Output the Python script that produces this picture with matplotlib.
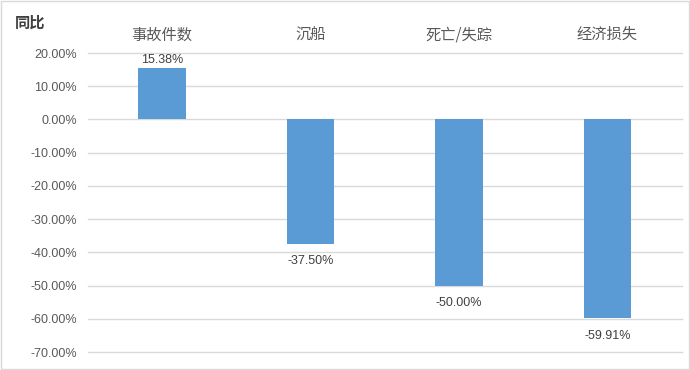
import matplotlib
matplotlib.use('Agg')
from matplotlib import pyplot as plt
from matplotlib.patches import Rectangle

categories = ['事故件数', '沉船', '死亡/失踪', '经济损失']
values = [15.38, -37.50, -50.00, -59.91]
yticks = [20, 10, 0, -10, -20, -30, -40, -50, -60, -70]

plt.rcParams['font.family'] = ['Noto Sans CJK SC', 'DejaVu Sans']

fig = plt.figure(figsize=(6.9, 3.7), dpi=100)
ax = fig.add_axes([0.1275, 0.0486, 0.8605, 0.8081])

x = range(len(categories))
ax.bar(x, values, width=0.32, color='#5B9BD5', zorder=3)

ax.set_ylim(-70, 20)
ax.set_xlim(-0.5, len(categories) - 0.5)
ax.set_yticks(yticks)
ax.set_yticklabels(['%.2f%%' % t for t in yticks], fontsize=9, color='#595959',
                   family=['Liberation Sans', 'DejaVu Sans'])
ax.grid(axis='y', color='#d9d9d9', linewidth=1, zorder=0)
for gl in ax.get_ygridlines():
    gl.set_clip_on(False)

ax.xaxis.tick_top()
ax.set_xticks(list(x))
ax.set_xticklabels(categories, fontsize=11, color='#595959')
ax.tick_params(axis='x', length=0, pad=7)
ax.tick_params(axis='y', length=0, pad=8)

for s in ax.spines.values():
    s.set_visible(False)

for i, v in enumerate(values):
    off = 2 if v >= 0 else -8
    ax.annotate('%.2f%%' % v, (i, v), xytext=(0, off), textcoords='offset points',
                ha='center', va='bottom' if v >= 0 else 'top', fontsize=9,
                color='#404040', family=['Liberation Sans', 'DejaVu Sans'])

fig.text(0.022, 0.94, '同比', fontsize=11, fontweight='bold', color='#404040', va='center')

fig.patches.append(Rectangle((0.001, 0.002), 0.997, 0.995, transform=fig.transFigure,
                             fill=False, edgecolor='#d9d9d9', linewidth=1))

fig.savefig('out.png', dpi=100)
